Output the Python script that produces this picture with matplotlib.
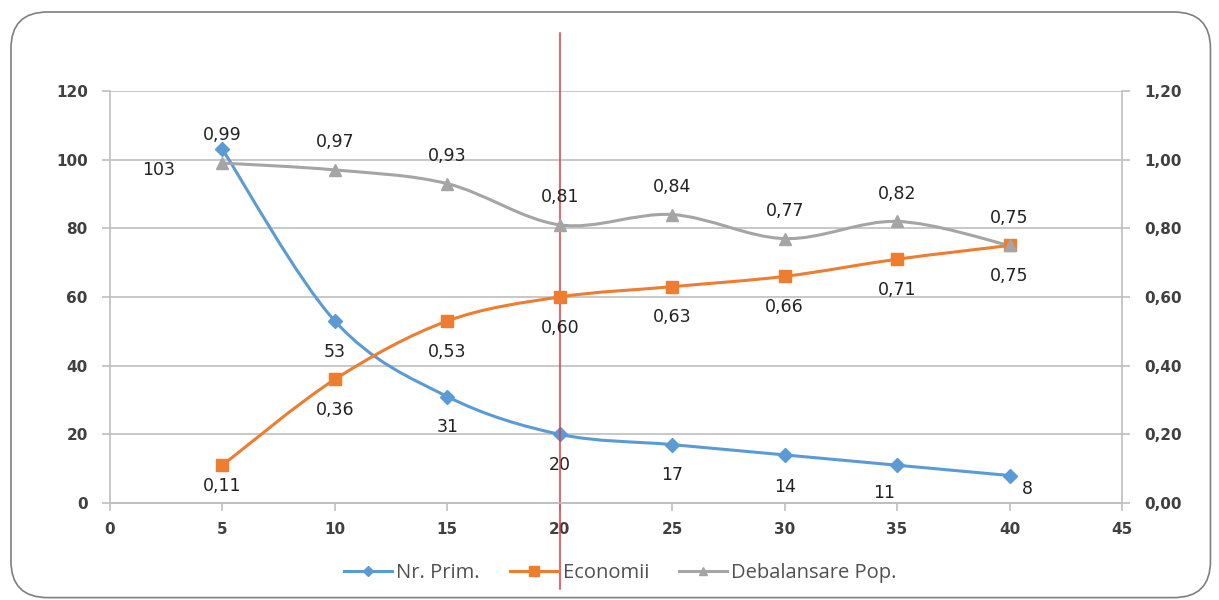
import matplotlib
matplotlib.use("Agg")
import matplotlib.pyplot as plt
import numpy as np
from matplotlib.path import Path
from matplotlib.patches import PathPatch, FancyBboxPatch
from matplotlib.lines import Line2D

# date
x = [5, 10, 15, 20, 25, 30, 35, 40]
nr_prim = [103, 53, 31, 20, 17, 14, 11, 8]
economii = [0.11, 0.36, 0.53, 0.60, 0.63, 0.66, 0.71, 0.75]
debalansare = [0.99, 0.97, 0.93, 0.81, 0.84, 0.77, 0.82, 0.75]
serii = ["Nr. Prim.", "Economii", "Debalansare Pop."]

albastru = "#5B9BD5"
portocaliu = "#ED7D31"
gri = "#A5A5A5"
text_col = "#404040"


def curba_neteda(ax, xs, ys, culoare):
    # linie netezita ca in Excel (Bezier prin puncte, tip Catmull-Rom)
    p = np.column_stack([xs, ys]).astype(float)
    n = len(p)
    verts = [p[0]]
    codes = [Path.MOVETO]
    for i in range(n - 1):
        p0 = p[i - 1] if i > 0 else p[i]
        p3 = p[i + 2] if i + 2 < n else p[i + 1]
        c1 = p[i] + (p[i + 1] - p0) / 6
        c2 = p[i + 1] - (p3 - p[i]) / 6
        verts += [c1, c2, p[i + 1]]
        codes += [Path.CURVE4] * 3
    ax.add_patch(PathPatch(Path(verts, codes), fill=False, edgecolor=culoare,
                           lw=2.2, zorder=3, capstyle="round"))


def eticheta(v):
    return f"{v:.2f}".replace(".", ",")


fig = plt.figure(figsize=(12.19, 6), dpi=100)

# chenar rotunjit
fig.patches.append(FancyBboxPatch((0.009, 0.004), 0.984, 0.976,
                                  boxstyle="round,pad=0,rounding_size=0.03",
                                  transform=fig.transFigure, facecolor="white",
                                  edgecolor="#7F7F7F", lw=1.2,
                                  mutation_aspect=12.19 / 6))

ax = fig.add_axes([0.0902, 0.1617, 0.8302, 0.6867])
ax2 = ax.twinx()
ax.set_zorder(2)
ax2.set_zorder(3)
ax.patch.set_visible(False)
ax2.patch.set_visible(False)

ax.set_xlim(0, 45)
ax.set_ylim(0, 120)
ax2.set_ylim(0, 1.2)
ax.set_xticks(range(0, 46, 5))
ax.set_yticks(range(0, 121, 20))
ax2.set_yticks(np.arange(0, 1.21, 0.2))
ax2.set_yticklabels([eticheta(v) for v in np.arange(0, 1.21, 0.2)])

ax.grid(axis="y", color="#BFBFBF", lw=1.2)
for a in (ax, ax2):
    a.spines["top"].set_visible(False)
    for s in ("left", "right", "bottom"):
        a.spines[s].set_color("#BFBFBF")
        a.spines[s].set_linewidth(1.2)
    a.tick_params(colors="#BFBFBF", labelcolor=text_col, length=6, width=1.2,
                  labelsize=11)
ax2.spines["left"].set_visible(False)
ax.spines["right"].set_visible(False)
for lab in ax.get_xticklabels() + ax.get_yticklabels() + ax2.get_yticklabels():
    lab.set_fontweight("bold")
ax.tick_params(axis="x", pad=8)
ax.tick_params(axis="y", pad=10)
ax2.tick_params(axis="y", pad=10)

# serii
curba_neteda(ax, x, nr_prim, albastru)
ax.plot(x, nr_prim, ls="none", marker="D", ms=7, color=albastru, zorder=4,
        clip_on=False)
curba_neteda(ax2, x, economii, portocaliu)
ax2.plot(x, economii, ls="none", marker="s", ms=9, color=portocaliu, zorder=4)
curba_neteda(ax2, x, debalansare, gri)
ax2.plot(x, debalansare, ls="none", marker="^", ms=9, color=gri, zorder=4)

fs = 12.5
eti = dict(textcoords="offset points", ha="center", va="center", fontsize=fs,
           color="#222222")

# etichete Nr. Prim.
decalaj_nr = [(-46, -15), (0, -22), (0, -22), (0, -22), (0, -22), (0, -23),
              (-9, -20), (13, -10)]
for (xi, yi), dxy in zip(zip(x, nr_prim), decalaj_nr):
    ax.annotate(str(yi), (xi, yi), xytext=dxy, **eti)

for i, (xi, yi) in enumerate(zip(x, economii)):
    dy = -15 if i == 0 else -22
    ax2.annotate(eticheta(yi), (xi, yi), xytext=(0, dy), **eti)

for xi, yi in zip(x, debalansare):
    ax2.annotate(eticheta(yi), (xi, yi), xytext=(0, 20), **eti)

# linia verticala la x = 20
ax.plot([20, 20], [-25, 137], color="#E8383F", lw=1.1, clip_on=False, zorder=5)

# legenda
handles = [
    Line2D([], [], color=albastru, lw=2.2, marker="D", ms=5),
    Line2D([], [], color=portocaliu, lw=2.2, marker="s", ms=7),
    Line2D([], [], color=gri, lw=2.2, marker="^", ms=6),
]
fig.legend(handles, serii, loc="center", bbox_to_anchor=(0.509, 0.045), ncol=3,
           frameon=False, handlelength=2.4, columnspacing=1.5, handletextpad=0.2,
           prop={"family": "Open Sans", "size": 14.5}, labelcolor="#505050")

fig.savefig("out.png", dpi=100)
